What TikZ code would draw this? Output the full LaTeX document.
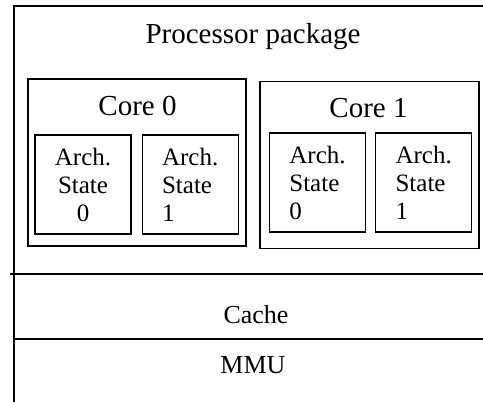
\documentclass[tikz,border=0pt]{standalone}
\usepackage{fontspec}
\setmainfont{Liberation Serif}
\usetikzlibrary{positioning}

\tikzstyle{every node}+=[inner sep=0pt,line width=1.2pt]
\tikzstyle{every path}+=[line width=1.2pt]
\tikzstyle{core}=[draw,rectangle,minimum height=167pt]
\tikzstyle{arch}=[draw,rectangle,minimum width=96pt,minimum height=99pt,font=\fontsize{25}{28}\selectfont]
\tikzstyle{big}=[anchor=base,font=\fontsize{29}{32}\selectfont]
\tikzstyle{mid}=[anchor=base,font=\fontsize{26}{30}\selectfont]

\begin{document}
\begin{tikzpicture}[x=1pt,y=-1pt]
\useasboundingbox (0,0) rectangle (483,402);

% package outline and the two layers below it
\draw (483,6) -- (14,6) -- (14,402);
\draw (10,274) -- (483,274);
\draw (14,339) -- (483,339);

\node[big] (pkg) at (253,43) {Processor package};

\node[core,minimum width=218pt] (c0) at (137,162.5) {};
\node[core,minimum width=219pt] (c1) at (369.5,165) {};
\node[big] (c0lbl) at (137.5,115) {Core 0};
\node[big] (c1lbl) at (368.5,117) {Core 1};

\node[arch,align=center] (a00) at (83,184.5) {Arch.\\State\\0};
\node[arch,align=left,right=10pt of a00] (a01) {Arch.\\State\\1};
\node[arch,align=left] (a10) at (317.5,182.5) {Arch.\\State\\0};
\node[arch,align=left,right=9pt of a10] (a11) {Arch.\\State\\1};

\node[mid] (cache) at (256,323) {Cache};
\node[mid] (mmu) at (253,373) {MMU};
\end{tikzpicture}
\end{document}
